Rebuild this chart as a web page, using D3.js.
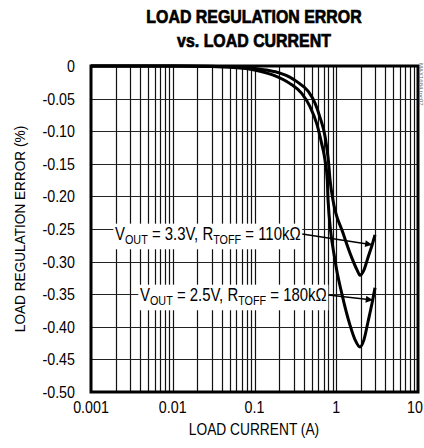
<!DOCTYPE html>
<html><head><meta charset="utf-8">
<script src="https://cdn.jsdelivr.net/npm/d3@7"></script>
<style>body{margin:0;background:#fff}svg{display:block}text{font-family:"Liberation Sans Narrow","Arial Narrow","Liberation Sans",sans-serif}</style>
</head><body><svg id="c" width="424" height="448"></svg>
<script>
const xTicks = [0.001, 0.01, 0.1, 1, 10];
const xTickLabels = ["0.001", "0.01", "0.1", "1", "10"];
const yTicks = [0, -0.05, -0.10, -0.15, -0.20, -0.25, -0.30, -0.35, -0.40, -0.45, -0.50];
const yTickLabels = ["0", "-0.05", "-0.10", "-0.15", "-0.20", "-0.25", "-0.30", "-0.35", "-0.40", "-0.45", "-0.50"];
// VOUT = 3.3V, RTOFF = 110k
const curr33 = [0.001, 0.01, 0.03, 0.05, 0.1, 0.15, 0.205, 0.27, 0.33, 0.455, 0.55, 0.63, 0.73, 0.80, 0.84, 0.91, 1.21, 1.56, 1.80, 1.95, 2.18, 2.44, 2.74, 2.98];
const err33 = [0, 0, -0.0005, -0.001, -0.004, -0.007, -0.011, -0.017, -0.024, -0.039, -0.057, -0.078, -0.108, -0.144, -0.175, -0.205, -0.256, -0.295, -0.313, -0.321, -0.313, -0.294, -0.275, -0.259];
// VOUT = 2.5V, RTOFF = 180k
const curr25 = [0.001, 0.01, 0.03, 0.05, 0.1, 0.17, 0.272, 0.378, 0.476, 0.576, 0.663, 0.728, 0.777, 0.793, 0.966, 1.18, 1.47, 1.70, 1.95, 2.18, 2.44, 2.74, 2.98];
const err25 = [0, 0, -0.0008, -0.002, -0.006, -0.014, -0.027, -0.042, -0.062, -0.088, -0.119, -0.144, -0.175, -0.205, -0.298, -0.351, -0.397, -0.420, -0.431, -0.420, -0.393, -0.364, -0.340];

const svg = d3.select("#c");
const x = d3.scaleLog().domain([0.001, 10]).range([91, 418]);
const y = d3.scaleLinear().domain([-0.5, 0]).range([392, 66]);

// condensed text helper
function ctext(px, py, str, size, anchor, sx, opts) {
  const gg = svg.append("g").attr("transform", `translate(${px},${py}) scale(${sx},1)`);
  const t = gg.append("text").attr("x", 0).attr("y", 0).attr("text-anchor", anchor).attr("font-size", size).text(str);
  if (opts) Object.keys(opts).forEach(k => t.attr(k, opts[k]));
  return gg;
}

// grid
const minor = [];
for (let e = -3; e < 1; e++) for (let m = 2; m <= 9; m++) minor.push(m * Math.pow(10, e));
const g = svg.append("g");
g.selectAll(".vg").data(minor.concat([0.01, 0.1, 1])).enter().append("line")
  .attr("x1", d => Math.round(x(d)) + 0.5).attr("x2", d => Math.round(x(d)) + 0.5)
  .attr("y1", y(0)).attr("y2", y(-0.5)).attr("stroke", "#111").attr("stroke-width", 1.2);
g.selectAll(".hg").data(yTicks.slice(1, -1)).enter().append("line")
  .attr("x1", x(0.001)).attr("x2", x(10))
  .attr("y1", d => Math.round(y(d)) + 0.5).attr("y2", d => Math.round(y(d)) + 0.5)
  .attr("stroke", "#222").attr("stroke-width", 1.2);

// curves
const line = d3.line().x(d => x(d[0])).y(d => y(d[1])).curve(d3.curveMonotoneX);
svg.append("path").datum(curr33.map((c, i) => [c, err33[i]])).attr("d", line)
  .attr("fill", "none").attr("stroke", "#000").attr("stroke-width", 3);
svg.append("path").datum(curr25.map((c, i) => [c, err25[i]])).attr("d", line)
  .attr("fill", "none").attr("stroke", "#000").attr("stroke-width", 3);

// frame
svg.append("rect").attr("x", x(0.001)).attr("y", y(0)).attr("width", x(10) - x(0.001)).attr("height", y(-0.5) - y(0))
  .attr("fill", "none").attr("stroke", "#000").attr("stroke-width", 3);

// annotations
svg.append("defs").append("marker").attr("id", "ah").attr("viewBox", "0 0 10 10")
  .attr("refX", 10).attr("refY", 5).attr("markerWidth", 12).attr("markerHeight", 7).attr("orient", "auto")
  .attr("markerUnits", "userSpaceOnUse")
  .append("path").attr("d", "M0,0L10,5L0,10Z").attr("fill", "#000");
function annot(tx, ty, vout, rt, ax, ay) {
  const sx = 0.83;
  const gg = svg.append("g").attr("transform", `translate(${tx},${ty}) scale(${sx},1)`);
  const bg = gg.append("rect").attr("fill", "#fff");
  const t = gg.append("text").attr("x", 0).attr("y", 0).attr("font-size", 18).attr("fill", "#000");
  t.append("tspan").text("V");
  t.append("tspan").attr("font-size", 13).attr("dy", 4).text("OUT");
  t.append("tspan").attr("dy", -4).text(" = " + vout + ", R");
  t.append("tspan").attr("font-size", 13).attr("dy", 4).text("TOFF");
  t.append("tspan").attr("dy", -4).text(" = " + rt + "k\u03A9");
  const b = t.node().getBBox();
  bg.attr("x", b.x - 2).attr("y", b.y).attr("width", b.width + 4).attr("height", b.height + 2);
  const ex = tx + (b.x + b.width + 2) * sx, ey = ty - 6;
  svg.append("line").attr("x1", ex).attr("y1", ey).attr("x2", x(ax)).attr("y2", y(ay))
    .attr("stroke", "#000").attr("stroke-width", 1.5).attr("marker-end", "url(#ah)");
}
annot(115, 240, "3.3V", "110", 2.75, -0.274);
annot(140, 301, "2.5V", "180", 2.8, -0.359);

// ticks
yTicks.forEach((d, i) => ctext(75, y(d) + 6, yTickLabels[i], 17, "end", 0.84));
xTicks.forEach((d, i) => {
  const px = i === xTicks.length - 1 ? 423 : x(d);
  ctext(px, 413, xTickLabels[i], 17, i === xTicks.length - 1 ? "end" : "middle", 0.84);
});

// titles
ctext(254, 23, "LOAD REGULATION ERROR", 18.5, "middle", 0.86, {"font-weight": "bold", "stroke": "#000", "stroke-width": 0.7});
ctext(254, 47, "vs. LOAD CURRENT", 18.5, "middle", 0.86, {"font-weight": "bold", "stroke": "#000", "stroke-width": 0.7});
ctext(254, 435, "LOAD CURRENT (A)", 16, "middle", 0.86);
svg.append("g").attr("transform", "translate(25,229) rotate(-90) scale(0.88,1)")
  .append("text").attr("text-anchor", "middle").attr("font-size", 15.5).text("LOAD REGULATION ERROR (%)");
svg.append("text").attr("transform", "translate(419,63) rotate(90)").attr("font-size", 6).attr("fill", "#666").text("MAX1684 toc07");
</script></body></html>
